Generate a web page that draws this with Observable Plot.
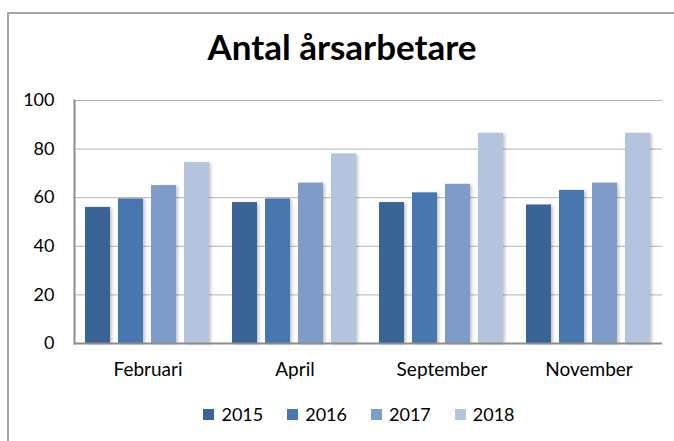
<!DOCTYPE html>
<html>
<head>
<meta charset="utf-8">
<script src="https://cdn.jsdelivr.net/npm/d3@7"></script>
<script src="https://cdn.jsdelivr.net/npm/@observablehq/plot@0.6"></script>
<style>
  html, body { margin: 0; padding: 0; background: #fff; overflow: hidden; }
  #wrap { position: relative; width: 674px; height: 441px; font-family: Lato, "Open Sans", sans-serif; }
  #border { position: absolute; left: 7px; top: 12px; width: 700px; height: 500px; border-left: 2px solid #a6a6a6; border-top: 2px solid #a6a6a6; box-sizing: border-box; pointer-events: none; }
  #title { height: 90px; box-sizing: border-box; padding-top: 26px; text-align: center; font-weight: bold; font-size: 35px; line-height: 40px; color: #000; padding-left: 10px; }
  #chart svg { display: block; }
  g[aria-label="bar"] rect { filter: drop-shadow(2px 1px 1.5px rgba(0,0,0,0.22)); }
  #legend { height: 51px; box-sizing: border-box; padding-top: 6px; display: flex; justify-content: center; padding-left: 68px; }
  #legend .lg-swatches { font-family: Lato, sans-serif !important; font-size: 18px !important; color: #000 !important; }
  #legend .lg-swatch { margin-right: 24px !important; }
  #legend .lg-swatch > svg { margin-right: 7px !important; }
</style>
</head>
<body>
<div id="wrap">
  <div id="border"></div>
  <div id="title">Antal årsarbetare</div>
  <div id="chart"></div>
  <div id="legend"></div>
</div>
<script>
const months = ["Februari", "April", "September", "November"];
const years = ["2015", "2016", "2017", "2018"];
const v2015 = [56, 58, 58, 57];
const v2016 = [59.5, 59.5, 62, 63];
const v2017 = [65, 66, 65.5, 66];
const v2018 = [74.5, 78, 86.5, 86.5];
const colors = ["#3b6496", "#4877b0", "#7f9cc8", "#b4c4df"];
const yTicks = [0, 20, 40, 60, 80, 100];

const series = [v2015, v2016, v2017, v2018];
const data = [];
months.forEach((m, i) => years.forEach((y, j) => data.push({month: m, year: y, value: series[j][i]})));

const chart = Plot.plot({
  width: 674,
  height: 300,
  marginTop: 10,
  marginBottom: 47,
  marginLeft: 73,
  marginRight: 12,
  style: {fontFamily: "Lato, sans-serif", fontSize: "18px", color: "#000", background: "transparent", overflow: "visible"},
  fx: {domain: months, padding: 0, label: null},
  x: {domain: years, paddingInner: 0.23, paddingOuter: 0.29, axis: null},
  y: {domain: [0, 100], label: null},
  color: {domain: years, range: colors},
  marks: [
    Plot.gridY(yTicks, {stroke: "#b3b3b3", strokeOpacity: 1, strokeWidth: 1}),
    Plot.barY(data, {fx: "month", x: "year", y: "value", fill: "year"}),
    Plot.ruleY([0], {stroke: "#8c8c8c", strokeWidth: 2}),
    Plot.frame({anchor: "left", facetAnchor: "left", stroke: "#8c8c8c", strokeWidth: 2}),
    Plot.axisY(yTicks, {tickSize: 0, tickPadding: 20, fontSize: 18, label: null}),
    Plot.axisFx({anchor: "bottom", tickSize: 0, tickPadding: 19, fontSize: 19, label: null})
  ]
});
document.getElementById("chart").appendChild(chart);

const leg = chart.legend("color", {swatchSize: 11, className: "lg"});
document.getElementById("legend").appendChild(leg);
</script>
</body>
</html>
